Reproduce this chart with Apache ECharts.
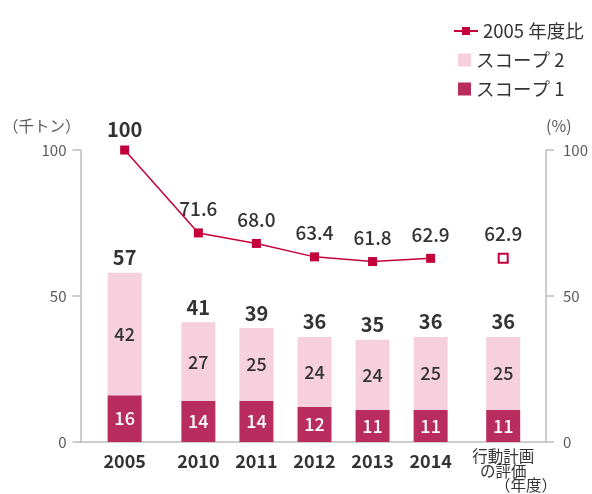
<!DOCTYPE html>
<html>
<head>
<meta charset="utf-8">
<script src="https://cdn.jsdelivr.net/npm/echarts@6/dist/echarts.min.js"></script>
<style>
  html, body { margin: 0; padding: 0; background: #fff; }
  #chart { width: 592px; height: 494px; }
</style>
</head>
<body>
<div id="chart"></div>
<script>
// 年度
const categories = ['2005', '2010', '2011', '2012', '2013', '2014', '行動計画\nの評価'];
// 千トン
const scope1 = [16, 14, 14, 12, 11, 11, 11];
const scope2 = [42, 27, 25, 24, 24, 25, 25];
const totals = [57, 41, 39, 36, 35, 36, 36];
// 2005年度比 (%)
const ratio = [100, 71.6, 68.0, 63.4, 61.8, 62.9, 62.9];

const RED = '#c4003a';
const S1 = '#b92c5e';
const S2 = '#f6d1dd';
const AXIS = '#bdbdbd';
const FONT = '"Noto Sans CJK JP", "Noto Sans", sans-serif';

// 2005 の後と評価の前に少し間をあける
function slot(i) {
  let p = i;
  if (i >= 1) p += 0.27;
  if (i >= 6) p += 0.25;
  return p;
}
const xs = categories.map((c, i) => slot(i));
const last = categories.length - 1;

// 積み上げは y 側で行うため、値を先頭列にして encode で x/y を指定
function barData(vals) {
  return vals.map((v, i) => [v, xs[i]]);
}

let myChart = echarts.init(document.getElementById('chart'));
myChart.setOption({
  animation: false,
  textStyle: { fontFamily: FONT },
  legend: [
    {
      data: ['2005 年度比'],
      left: 448,
      top: 16,
      itemWidth: 24,
      itemHeight: 10,
      itemGap: 9,
      textStyle: { fontSize: 18.5, color: '#333', fontFamily: FONT, lineHeight: 20 }
    },
    {
      data: ['スコープ 2', 'スコープ 1'],
      orient: 'vertical',
      left: 453,
      top: 45,
      icon: 'rect',
      itemWidth: 13,
      itemHeight: 13,
      itemGap: 9,
      textStyle: { fontSize: 18.5, color: '#333', fontFamily: FONT, lineHeight: 20 }
    }
  ],
  grid: { left: 74, right: 46, top: 150, bottom: 52, containLabel: false },
  xAxis: {
    type: 'value',
    min: -0.76,
    max: 7.257,
    splitLine: { show: false },
    axisLine: { show: true, onZero: false, lineStyle: { color: AXIS, width: 1.5 } },
    axisTick: { show: false },
    axisLabel: {
      customValues: xs,
      margin: 6,
      formatter: function (v) {
        let i = xs.findIndex(x => Math.abs(x - v) < 1e-6);
        if (i < 0) return '';
        return i === last ? '{e|' + categories[i] + '}' : '{y|' + categories[i] + '}';
      },
      rich: {
        y: { fontSize: 18, fontWeight: 'bold', color: '#333', lineHeight: 22, padding: [4, 0, 0, 0], fontFamily: FONT },
        e: { fontSize: 15.5, color: '#333', lineHeight: 15.5, fontFamily: FONT }
      }
    }
  },
  yAxis: [
    {
      type: 'value',
      min: 0,
      max: 100,
      interval: 50,
      name: '（千トン）',
      nameLocation: 'end',
      nameGap: 16,
      nameTextStyle: { fontSize: 15.5, color: '#595959', align: 'right', fontFamily: FONT },
      splitLine: { show: false },
      axisLine: { show: true, onZero: false, lineStyle: { color: AXIS, width: 1.5 } },
      axisTick: { show: true, length: 8, lineStyle: { color: AXIS, width: 1.5 } },
      axisLabel: { margin: 14, fontSize: 15, color: '#595959' }
    },
    {
      type: 'value',
      min: 0,
      max: 100,
      interval: 50,
      position: 'right',
      name: '(%)',
      nameLocation: 'end',
      nameGap: 16,
      nameTextStyle: { fontSize: 16, color: '#595959', align: 'left', fontFamily: FONT },
      splitLine: { show: false },
      axisLine: { show: true, onZero: false, lineStyle: { color: AXIS, width: 1.5 } },
      axisTick: { show: true, length: 8, lineStyle: { color: AXIS, width: 1.5 } },
      axisLabel: { margin: 17, fontSize: 15, color: '#595959' }
    }
  ],
  graphic: [
    {
      type: 'text',
      left: 495,
      top: 477,
      style: { text: '（年度）', fontSize: 15.5, fill: '#333', fontFamily: FONT }
    }
  ],
  series: [
    {
      name: 'スコープ 1',
      type: 'bar',
      stack: 'total',
      barWidth: 34,
      encode: { x: 1, y: 0 },
      itemStyle: { color: S1 },
      label: { show: true, position: 'inside', color: '#fff', fontSize: 18, fontWeight: 500, formatter: p => scope1[p.dataIndex] },
      data: barData(scope1)
    },
    {
      name: 'スコープ 2',
      type: 'bar',
      stack: 'total',
      barWidth: 34,
      encode: { x: 1, y: 0 },
      itemStyle: { color: S2 },
      label: { show: true, position: 'inside', color: '#333', fontSize: 18, fontWeight: 500, formatter: p => scope2[p.dataIndex] },
      data: barData(scope2)
    },
    {
      // 合計ラベル用
      name: '合計',
      type: 'bar',
      stack: 'total',
      barWidth: 34,
      encode: { x: 1, y: 0 },
      itemStyle: { color: 'transparent' },
      label: {
        show: true,
        position: 'top',
        distance: 5,
        color: '#333',
        fontSize: 20,
        fontWeight: 'bold',
        formatter: p => totals[p.dataIndex]
      },
      data: barData(totals.map(() => 0))
    },
    {
      name: '2005 年度比',
      type: 'line',
      yAxisIndex: 1,
      symbol: 'rect',
      symbolSize: 9,
      itemStyle: { color: RED },
      lineStyle: { color: RED, width: 1.5 },
      label: {
        show: true,
        position: 'top',
        distance: 10,
        color: '#333',
        fontSize: 19,
        fontWeight: 500,
        formatter: p => p.dataIndex === 0 ? '{b|' + ratio[0] + '}' : ratio[p.dataIndex].toFixed(1),
        rich: { b: { fontSize: 20, fontWeight: 'bold', color: '#333', padding: [0, 0, -4, 0], fontFamily: FONT } }
      },
      data: ratio.slice(0, last).map((v, i) => [xs[i], v])
    },
    {
      name: '評価',
      type: 'scatter',
      yAxisIndex: 1,
      symbol: 'rect',
      symbolSize: 9,
      itemStyle: { color: '#fff', borderColor: RED, borderWidth: 2, opacity: 1 },
      label: {
        show: true,
        position: 'top',
        distance: 10,
        color: '#333',
        opacity: 1,
        fontSize: 19,
        fontWeight: 500,
        formatter: p => ratio[last].toFixed(1)
      },
      data: [[xs[last], ratio[last]]]
    }
  ]
});
</script>
</body>
</html>
